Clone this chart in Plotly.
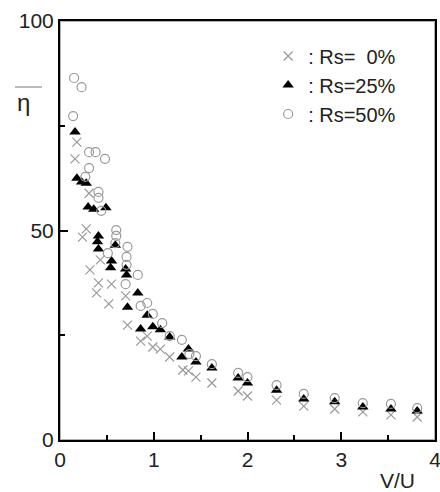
import plotly.graph_objects as go

# Rs = 0 %  (crosses)
x_rs0 = [0.18, 0.16, 0.31, 0.28, 0.24, 0.43, 0.32, 0.41, 0.39, 0.55, 0.52, 0.70, 0.72,
         0.86, 0.93, 0.99, 1.07, 1.17, 1.31, 1.37, 1.45, 1.62, 1.90, 2.00, 2.31, 2.60,
         2.93, 3.23, 3.53, 3.81]
y_rs0 = [71.1, 67.1, 58.9, 50.4, 48.4, 43.0, 40.6, 37.5, 35.1, 37.2, 32.5, 34.4, 27.4,
         23.6, 24.8, 22.2, 21.7, 19.8, 16.7, 16.5, 15.0, 13.6, 11.7, 10.5, 9.5, 8.1,
         7.4, 6.7, 6.0, 5.5]

# Rs = 25 %  (filled triangles)
x_rs25 = [0.16, 0.18, 0.23, 0.28, 0.30, 0.36, 0.49, 0.41, 0.40, 0.41, 0.59, 0.55, 0.54,
          0.70, 0.71, 0.83, 0.72, 0.93, 0.86, 0.99, 1.07, 1.17, 1.30, 1.37, 1.45, 1.62,
          1.90, 2.00, 2.31, 2.60, 2.93, 3.23, 3.53, 3.81]
y_rs25 = [73.5, 62.5, 61.6, 61.3, 55.6, 55.1, 55.4, 48.7, 47.3, 45.6, 46.5, 42.7, 41.1,
          40.8, 39.4, 35.1, 31.7, 29.8, 26.5, 27.0, 26.3, 24.6, 19.8, 21.7, 18.6, 17.2,
          14.8, 13.6, 11.9, 9.8, 9.1, 7.9, 7.4, 6.9]

# Rs = 50 %  (open circles)
x_rs50 = [0.15, 0.23, 0.14, 0.31, 0.38, 0.48, 0.31, 0.27, 0.41, 0.41, 0.44, 0.60, 0.60,
          0.59, 0.51, 0.72, 0.71, 0.71, 0.83, 0.70, 0.86, 0.93, 0.99, 1.09, 1.17, 1.30,
          1.38, 1.45, 1.62, 1.90, 2.00, 2.31, 2.60, 2.93, 3.23, 3.53, 3.81]
y_rs50 = [86.4, 84.2, 77.3, 68.7, 68.7, 67.1, 64.9, 62.8, 59.2, 57.8, 54.7, 50.1, 48.7,
          47.0, 44.6, 46.1, 43.7, 41.8, 39.4, 37.2, 32.0, 32.7, 30.1, 27.9, 24.8, 23.9,
          20.5, 20.0, 18.1, 16.0, 15.0, 13.1, 11.0, 10.0, 8.8, 8.6, 7.6]

x_ticks = [0, 1, 2, 3, 4]
y_ticks = [0, 50, 100]
legend_names = [": Rs=\u00a0\u00a00%", ": Rs=25%", ": Rs=50%"]

FONT = "Liberation Sans, Arial, sans-serif"
GREY = "#9a9a9a"

fig = go.Figure()
fig.add_trace(go.Scatter(x=x_rs0, y=y_rs0, mode="markers", name=legend_names[0],
                         marker=dict(symbol="x-thin-open", size=9, color=GREY,
                                     line=dict(color=GREY, width=1.2))))
fig.add_trace(go.Scatter(x=x_rs25, y=y_rs25, mode="markers", name=legend_names[1],
                         marker=dict(symbol="triangle-up", size=10, color="black",
                                     line=dict(width=0))))
fig.add_trace(go.Scatter(x=x_rs50, y=y_rs50, mode="markers", name=legend_names[2],
                         marker=dict(symbol="circle-open", size=9, color=GREY,
                                     line=dict(color=GREY, width=1.2))))

axis_common = dict(showgrid=False, zeroline=False, showline=True, linewidth=2,
                   linecolor="black", mirror=True, ticks="inside", ticklen=8,
                   tickwidth=2, tickcolor="black", automargin=False,
                   ticklabeloverflow="allow",
                   tickfont=dict(family=FONT, size=21, color="#222"))

fig.update_xaxes(range=[0, 4], tickvals=x_ticks, ticktext=[str(v) for v in x_ticks],
                 minor=dict(ticks="inside", ticklen=5, tickwidth=2, tickcolor="black", dtick=0.5),
                 **axis_common)
fig.update_yaxes(range=[0, 100], tickvals=y_ticks, ticktext=[str(v) for v in y_ticks],
                 minor=dict(ticks="inside", ticklen=5, tickwidth=2, tickcolor="black", dtick=25),
                 **axis_common)

fig.update_layout(
    template="simple_white",
    width=440, height=492,
    margin=dict(l=60, r=5, t=21, b=52, autoexpand=False),
    plot_bgcolor="white", paper_bgcolor="white",
    font=dict(family=FONT, size=21, color="#222"),
    showlegend=True,
    legend=dict(x=0.555, y=0.963, xanchor="left", yanchor="top",
                bgcolor="rgba(0,0,0,0)", borderwidth=0,
                font=dict(family=FONT, size=20, color="#222"),
                itemwidth=30, tracegroupgap=0),
)

# plot frame
fig.add_shape(type="rect", xref="paper", yref="paper", x0=0, x1=1, y0=0, y1=1,
              line=dict(color="black", width=2), fillcolor="rgba(0,0,0,0)", layer="above")

fig.add_annotation(text="η", xref="paper", yref="paper", x=-0.098, y=0.8055,
                   xanchor="center", yanchor="middle",
                   showarrow=False, font=dict(family=FONT, size=24, color="#222"))
fig.add_shape(type="line", xref="paper", yref="paper", x0=-0.12, x1=-0.048,
              y0=0.8425, y1=0.8425, line=dict(color="#222", width=2))
fig.add_annotation(text="V/U", xref="paper", yref="paper", x=0.899, y=-0.0955,
                   xanchor="center", yanchor="middle",
                   showarrow=False, font=dict(family=FONT, size=21, color="#222"))

fig.write_html("out.html", config={"displayModeBar": False},
               post_script="document.body.style.margin='0';document.body.style.overflow='hidden';")
